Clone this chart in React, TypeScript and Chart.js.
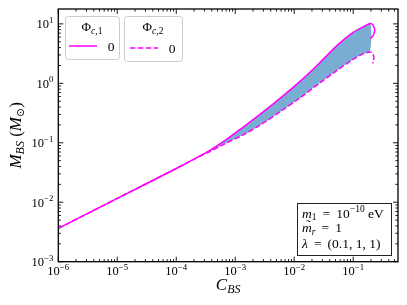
import { useEffect, useRef } from 'react';
import { Chart, registerables } from 'chart.js';
Chart.register(...registerables);

// Φc,1 = 0 (solid magenta)
const C_PHI1 = [1e-6, 1e-5, 1e-4, 1.86e-4, 3.77e-4, 7.03e-4, 1.37e-3, 2.66e-3, 5.81e-3, 1.27e-2, 2.77e-2, 5.40e-2, 0.101, 0.149, 0.196, 0.216, 0.229, 0.229, 0.217, 0.196];
const M_PHI1 = [3.63e-3, 1.16e-2, 3.70e-2, 5.12e-2, 7.53e-2, 0.113, 0.184, 0.303, 0.564, 1.09, 2.27, 4.39, 7.26, 8.97, 10.16, 9.59, 8.38, 7.24, 6.34, 5.69];
const PEAK1 = 14;
// Φc,2 = 0 (dashed magenta)
const C_PHI2 = [1e-6, 1e-5, 1e-4, 1.86e-4, 3.77e-4, 7.03e-4, 1.37e-3, 2.66e-3, 5.81e-3, 1.27e-2, 2.77e-2, 5.40e-2, 0.101, 0.149, 0.192, 0.212, 0.224, 0.220, 0.214];
const M_PHI2 = [3.63e-3, 1.16e-2, 3.70e-2, 5.12e-2, 7.19e-2, 9.89e-2, 0.136, 0.200, 0.334, 0.575, 1.03, 1.67, 2.55, 3.16, 3.38, 3.22, 2.75, 2.41, 2.16];
const PEAK2 = 14;
const SPLIT = 3;

const X_DECADES = [-6, -5, -4, -3, -2, -1];
const Y_DECADES = [-3, -2, -1, 0, 1];
const X_MIN = 1e-6;
const X_MAX = 0.575;
const Y_MIN = 1e-3;
const Y_MAX = 17.8;

const LEGEND_VALUE = '0';
const INFO_M1_EXP = '−10';
const INFO_MR = '1';
const INFO_LAMBDA = '(0.1, 1, 1)';

const FAMILY = '"Liberation Serif", "DejaVu Serif", serif';
const MAGENTA = '#ff00ff';
const EQ = '\u2009=\u2009';

type Seg = { t: string; it?: boolean; sz: number; dy?: number };
const segFont = (s: Seg) => `${s.it ? 'italic ' : ''}${s.sz}px ${FAMILY}`;
function richWidth(ctx: CanvasRenderingContext2D, segs: Seg[]) {
  let w = 0;
  for (const s of segs) { ctx.font = segFont(s); w += ctx.measureText(s.t).width; }
  return w;
}
function drawRich(ctx: CanvasRenderingContext2D, x: number, y: number, segs: Seg[], align: 'left' | 'center' | 'right') {
  const w = richWidth(ctx, segs);
  let cx = align === 'left' ? x : align === 'center' ? x - w / 2 : x - w;
  const start = cx;
  ctx.textAlign = 'left';
  ctx.textBaseline = 'alphabetic';
  for (const s of segs) {
    ctx.font = segFont(s);
    ctx.fillText(s.t, cx, y + (s.dy || 0));
    cx += ctx.measureText(s.t).width;
  }
  return start;
}
function roundRect(ctx: CanvasRenderingContext2D, x: number, y: number, w: number, h: number, r: number) {
  ctx.beginPath();
  ctx.moveTo(x + r, y);
  ctx.lineTo(x + w - r, y);
  ctx.arcTo(x + w, y, x + w, y + r, r);
  ctx.lineTo(x + w, y + h - r);
  ctx.arcTo(x + w, y + h, x + w - r, y + h, r);
  ctx.lineTo(x + r, y + h);
  ctx.arcTo(x, y + h, x, y + h - r, r);
  ctx.lineTo(x, y + r);
  ctx.arcTo(x, y, x + r, y, r);
  ctx.closePath();
}

const decorPlugin = {
  id: 'decor',
  afterDraw(chart: any) {
    const ctx: CanvasRenderingContext2D = chart.ctx;
    const xs = chart.scales.x, ys = chart.scales.y;
    const { left, right, top, bottom } = chart.chartArea;
    ctx.save();
    ctx.strokeStyle = '#000';
    ctx.fillStyle = '#000';
    // ticks
    ctx.lineWidth = 0.9;
    const seg = (a: number, b: number, c: number, d: number) => { ctx.beginPath(); ctx.moveTo(a, b); ctx.lineTo(c, d); ctx.stroke(); };
    for (let d = -6; d <= 0; d++) for (let k = 1; k <= 9; k++) {
      const v = k * Math.pow(10, d);
      if (v < X_MIN * 0.999 || v > X_MAX) continue;
      const px = xs.getPixelForValue(v);
      const len = k === 1 ? 5 : 2.6;
      seg(px, bottom, px, bottom - len);
      seg(px, top, px, top + len);
    }
    for (let d = -3; d <= 1; d++) for (let k = 1; k <= 9; k++) {
      const v = k * Math.pow(10, d);
      if (v < Y_MIN * 0.999 || v > Y_MAX) continue;
      const py = ys.getPixelForValue(v);
      const len = k === 1 ? 5 : 2.6;
      seg(left, py, left + len, py);
      seg(right, py, right - len, py);
    }
    ctx.lineWidth = 1.3;
    ctx.strokeRect(left, top, right - left, bottom - top);
    // tick labels
    for (const d of X_DECADES) {
      const px = xs.getPixelForValue(Math.pow(10, d));
      drawRich(ctx, px, 275, [{ t: '10', sz: 12.5 }, { t: '−' + Math.abs(d), sz: 8.8, dy: -5.5 }], 'center');
    }
    for (const d of Y_DECADES) {
      const py = ys.getPixelForValue(Math.pow(10, d));
      const ex = d < 0 ? '−' + Math.abs(d) : String(d);
      drawRich(ctx, left - 5, py + 4.3, [{ t: '10', sz: 12.5 }, { t: ex, sz: 8.8, dy: -5.5 }], 'right');
    }
    // axis titles
    drawRich(ctx, (left + right) / 2, 290, [{ t: 'C', it: true, sz: 17 }, { t: 'BS', it: true, sz: 12, dy: 3 }], 'center');
    ctx.save();
    ctx.translate(21, (top + bottom) / 2);
    ctx.rotate(-Math.PI / 2);
    drawRich(ctx, 0, 0, [
      { t: 'M', it: true, sz: 17 }, { t: 'BS', it: true, sz: 12, dy: 3 },
      { t: ' (', sz: 17 }, { t: 'M', it: true, sz: 17 }, { t: '⊙', sz: 11, dy: 3 }, { t: ')', sz: 17 },
    ], 'center');
    ctx.restore();
    // legends
    const legendBox = (x: number, y: number, w: number, h: number, idx: string, dash: number[], ly: number, ty: number, lx0: number, lx1: number, vx: number) => {
      roundRect(ctx, x + 0.5, y + 0.5, w, h, 3);
      ctx.fillStyle = 'rgba(255,255,255,0.85)';
      ctx.fill();
      ctx.strokeStyle = '#cccccc';
      ctx.lineWidth = 1;
      ctx.stroke();
      ctx.fillStyle = '#000';
      drawRich(ctx, x + w / 2, ty, [{ t: 'Φ', sz: 13 }, { t: 'c', it: true, sz: 9.5, dy: 2.5 }, { t: ',' + idx, sz: 9.5, dy: 2.5 }], 'center');
      ctx.strokeStyle = MAGENTA;
      ctx.lineWidth = 1.5;
      ctx.setLineDash(dash);
      seg(lx0, ly, lx1, ly);
      ctx.setLineDash([]);
      drawRich(ctx, vx, ly + 4.5, [{ t: LEGEND_VALUE, sz: 13.5 }], 'center');
    };
    legendBox(65, 16, 54, 43, '1', [], 46, 31, 69, 97, 111);
    legendBox(124, 16, 58, 45, '2', [5.5, 2.4], 48, 31, 130, 158, 172);
    // info box
    ctx.fillStyle = '#fff';
    ctx.fillRect(297.5, 203.5, 94, 52);
    ctx.strokeStyle = '#222';
    ctx.lineWidth = 1;
    ctx.strokeRect(297.5, 203.5, 94, 52);
    ctx.fillStyle = '#000';
    drawRich(ctx, 302, 217.5, [
      { t: 'm', it: true, sz: 13.5 }, { t: '1', sz: 9.5, dy: 2.5 }, { t: ' ' + EQ + ' 10', sz: 13.5 },
      { t: INFO_M1_EXP, sz: 9.5, dy: -5.5 }, { t: ' eV', sz: 13.5 },
    ], 'left');
    const x2 = drawRich(ctx, 302, 232, [
      { t: 'm', it: true, sz: 13.5 }, { t: 'r', it: true, sz: 9.5, dy: 2.5 }, { t: ' ' + EQ + ' ' + INFO_MR, sz: 13.5 },
    ], 'left');
    ctx.font = `13.5px ${FAMILY}`;
    ctx.textAlign = 'center';
    ctx.fillText('˜', x2 + 6.5, 229);
    drawRich(ctx, 302, 247.5, [{ t: 'λ', it: true, sz: 13.5 }, { t: ' ' + EQ + ' ' + INFO_LAMBDA, sz: 13.5 }], 'left');
    ctx.restore();
  },
};

export default function App() {
  const ref = useRef<HTMLCanvasElement | null>(null);
  useEffect(() => {
    if (!ref.current) return;
    const solid = C_PHI1.map((x, i) => ({ x, y: M_PHI1[i] }));
    const dashed = C_PHI2.map((x, i) => ({ x, y: M_PHI2[i] }));
    const band = [
      ...solid.slice(SPLIT, PEAK1 + 1),
      ...dashed.slice(SPLIT, PEAK2 + 1).reverse(),
    ];
    const chart = new Chart(ref.current, {
      type: 'line',
      data: {
        datasets: [
          { data: band, fill: 'shape', backgroundColor: 'rgba(31,119,180,0.6)', borderColor: 'rgba(0,0,0,0)', borderWidth: 0, pointRadius: 0, tension: 0.3, order: 3 },
          { data: solid, fill: false, borderColor: MAGENTA, borderWidth: 1.5, pointRadius: 0, tension: 0.3, order: 2 },
          { data: dashed, fill: false, borderColor: MAGENTA, borderWidth: 1.5, borderDash: [5.5, 2.4], pointRadius: 0, tension: 0.3, order: 1 },
        ] as any,
      },
      options: {
        animation: false,
        responsive: true,
        maintainAspectRatio: false,
        layout: { padding: { top: 9, right: 9, left: 0, bottom: 0 } },
        plugins: { legend: { display: false }, tooltip: { enabled: false } },
        scales: {
          x: {
            type: 'logarithmic', min: X_MIN, max: X_MAX,
            ticks: { display: false }, grid: { display: false }, border: { display: false },
            afterFit: (s: any) => { s.height = 43.3; },
          },
          y: {
            type: 'logarithmic', min: Y_MIN, max: Y_MAX,
            ticks: { display: false }, grid: { display: false }, border: { display: false },
            afterFit: (s: any) => { s.width = 58.3; },
          },
        },
      } as any,
      plugins: [decorPlugin],
    });
    return () => chart.destroy();
  }, []);
  return (
    <div style={{ position: 'fixed', left: 0, top: 0, width: 407, height: 305, background: '#fff' }}>
      <canvas ref={ref} />
    </div>
  );
}
